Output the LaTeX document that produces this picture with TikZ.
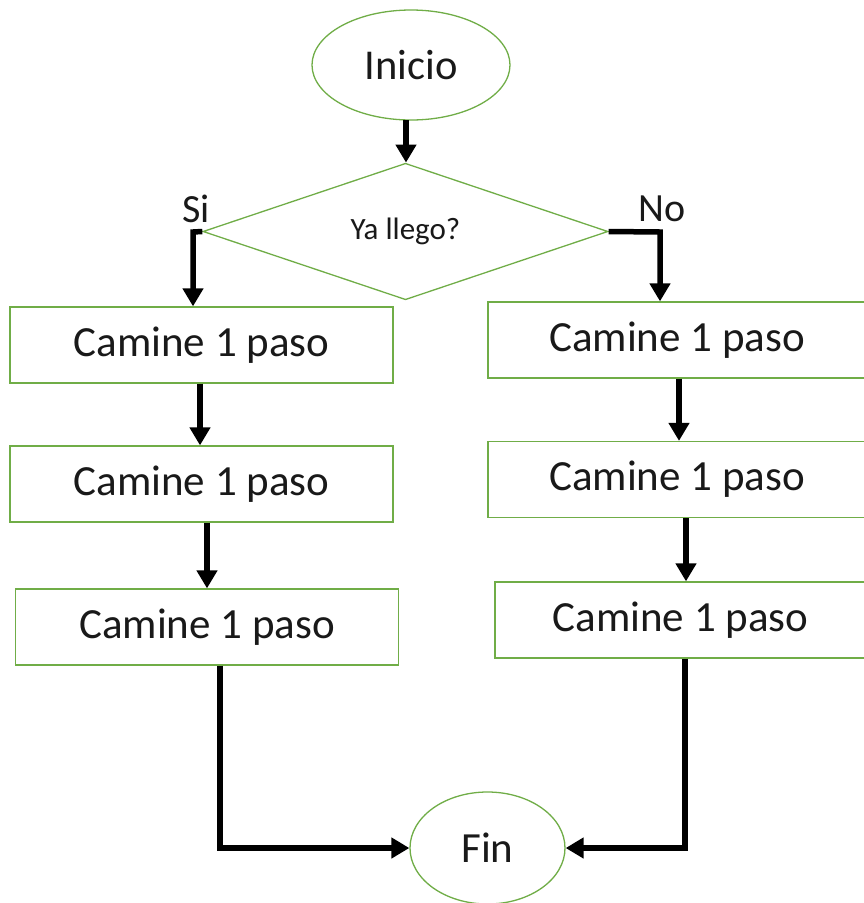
\documentclass[tikz,border=0pt]{standalone}
\usepackage{fontspec}
\setmainfont{Carlito}
\usetikzlibrary{shapes.geometric,arrows.meta}
\definecolor{flowgreen}{RGB}{112,173,71}
\begin{document}
\begin{tikzpicture}[x=1pt,y=-1pt,
  every node/.style={inner sep=0pt,text=black!90},
  terminal/.style={ellipse,draw=flowgreen,line width=1.3pt,fill=white},
  stepbox/.style={rectangle,draw=flowgreen,line width=1.3pt,fill=white,
    minimum width=383pt,minimum height=76pt,font=\fontsize{43}{48}\selectfont},
  decision/.style={diamond,draw=flowgreen,line width=1.3pt,fill=white,
    minimum width=405pt,minimum height=133pt,font=\fontsize{31}{36}\selectfont},
  arr/.style={line width=5.5pt,-{Triangle[width=20pt,length=18pt]}},
  lbl/.style={font=\fontsize{40}{46}\selectfont}]
\useasboundingbox (0,0) rectangle (864,903);
\clip (0,0) rectangle (864,903);

% start / end
\node[terminal,minimum width=198pt,minimum height=110pt,font=\fontsize{42.5}{48}\selectfont] (ini) at (411,65) {Inicio};
\node[terminal,minimum width=155pt,minimum height=112pt,font=\fontsize{43}{48}\selectfont] (fin) at (487.5,848) {Fin};

% decision
\node[decision] (dec) at (405.5,231.5) {Ya llego?};
\node[lbl] (si) at (196,209) {Si};
\node[lbl] (no) at (662,209) {No};

% left branch
\node[stepbox] (l1) at (201.5,345) {Camine 1 paso};
\node[stepbox] (l2) at (201.5,484) {Camine 1 paso};
\node[stepbox] (l3) at (207,627) {Camine 1 paso};

% right branch
\node[stepbox,minimum width=378pt] (r1) at (677,340) {Camine 1 paso};
\node[stepbox,minimum width=378pt] (r2) at (677,479.5) {Camine 1 paso};
\node[stepbox,minimum width=371pt] (r3) at (680.5,620) {Camine 1 paso};

% bend points
\coordinate (top) at (406,120);
\coordinate (sic) at (193,232);
\coordinate (noc) at (660,232);
\coordinate (lfc) at (220,848);
\coordinate (rfc) at (685,848);

% connectors
\draw[arr] (top) -- (top |- dec.north);
\draw[arr] (dec.west) -- (sic) -- (sic |- l1.north);
\draw[arr] (dec.east) -- (noc) -- (noc |- r1.north);
\draw[arr] (l1.south -| 200,0) -- (l2.north -| 200,0);
\draw[arr] (l2.south -| 207,0) -- (l3.north -| 207,0);
\draw[arr] (r1.south -| 679,0) -- (r2.north -| 679,0);
\draw[arr] (r2.south -| 686,0) -- (r3.north -| 686,0);
\draw[arr] (l3.south -| lfc) -- (lfc) -- (fin.west);
\draw[arr] (r3.south -| rfc) -- (rfc) -- (fin.east);
\end{tikzpicture}
\end{document}
